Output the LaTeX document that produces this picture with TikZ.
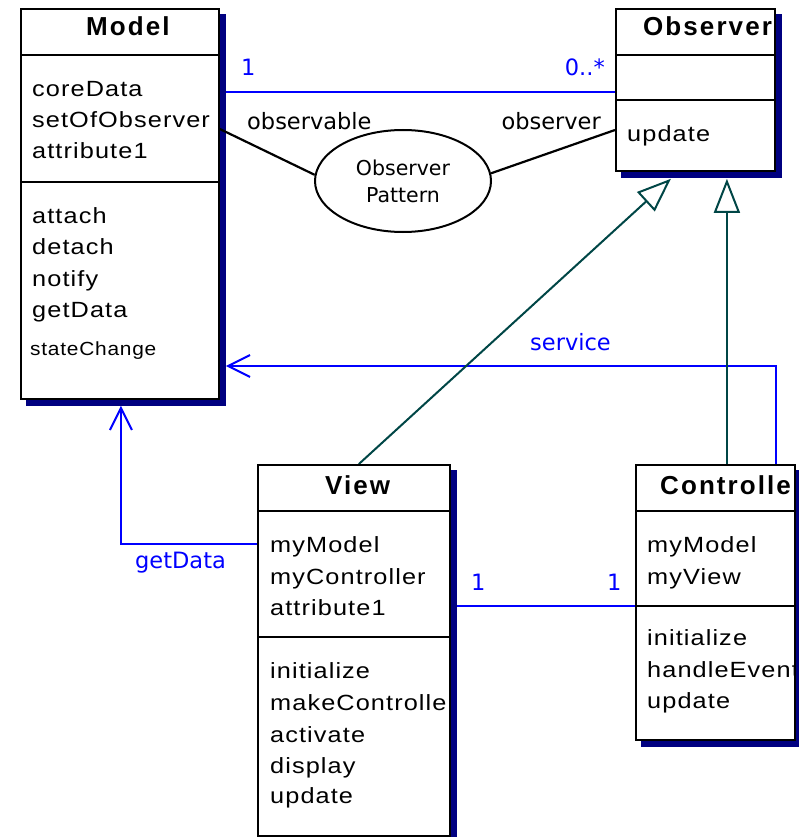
\documentclass[tikz,border=0pt]{standalone}
\usepackage{fontspec}
\setmainfont{Liberation Sans}
\newfontfamily\bodyf{Liberation Sans}[FakeStretch=1.15,LetterSpace=5]
\newfontfamily\titlef{Liberation Sans}[LetterSpace=8]
\newfontfamily\smallf{Liberation Sans}[FakeStretch=1.1,LetterSpace=4]
\newfontfamily\labelf{DejaVu Sans}
\usetikzlibrary{arrows.meta,shapes.geometric}
\definecolor{shadowblue}{RGB}{0,0,128}
\definecolor{linkblue}{RGB}{0,0,255}
\definecolor{gencol}{RGB}{0,70,70}
\pgfdeclarelayer{bg}
\pgfsetlayers{bg,main}
\begin{document}
\begin{tikzpicture}[x=1pt,y=-1pt,
  umlbox/.style={draw=black, line width=1.8pt, fill=white, rectangle, inner sep=0pt, anchor=north west},
  sep/.style={line width=1.8pt},
  txt/.style={anchor=base west, inner sep=0pt, font=\bodyf\fontsize{22}{26}\selectfont},
  ttl/.style={anchor=base west, inner sep=0pt, font=\titlef\bfseries\fontsize{26}{30}\selectfont},
  lbl/.style={anchor=base west, inner sep=0pt, font=\labelf\fontsize{22.5}{27}\selectfont},
  lble/.style={lbl, anchor=base east},
  blbl/.style={lbl, text=linkblue},
  blble/.style={lble, text=linkblue},
  assoc/.style={draw=linkblue, line width=2pt},
  dep/.style={assoc, -{Straight Barb[length=22pt,width=22pt]}, shorten >=6pt},
  gen/.style={draw=gencol, line width=2pt, -{Triangle[open,length=34pt,width=26pt,fill=white]}},
  role/.style={draw=black, line width=2.2pt},
]
\useasboundingbox (0,0) rectangle (798,837);

% boxes
\node[umlbox, minimum width=198pt, minimum height=390pt] (model) at (20,8) {};
\node[umlbox, minimum width=159pt, minimum height=162pt] (observer) at (615,8) {};
\node[umlbox, minimum width=192pt, minimum height=371pt] (view) at (257,464) {};
\node[umlbox, minimum width=159pt, minimum height=275pt] (controller) at (635,464) {};

\begin{pgfonlayer}{bg}
  % connectors under the shadows
  \draw[assoc] (model.east |- 0,92) -- (observer.west |- 0,92);
  \draw[assoc] (view.east |- 0,606) -- (controller.west |- 0,606);
  \draw[dep] ([xshift=60.5pt]controller.north) |- (model.east |- 0,366);
  \draw[dep] (view.west |- 0,544) -| ([xshift=1pt]model.south);
  \draw[gen] ([xshift=5pt]view.north) -- ([xshift=-24.5pt,yshift=-7pt]observer.south);
  \draw[gen] ([xshift=11.5pt]controller.north) -- ([xshift=31.5pt,yshift=-7pt]observer.south);
  % shadows
  \foreach \b in {model,observer,view,controller}
    \fill[shadowblue] ([shift={(6pt,-6pt)}]\b.north west) rectangle ([shift={(6pt,-6pt)}]\b.south east);
\end{pgfonlayer}

% separators
\draw[sep] (model.west |- 0,55) -- (model.east |- 0,55);
\draw[sep] (model.west |- 0,182) -- (model.east |- 0,182);
\draw[sep] (observer.west |- 0,55) -- (observer.east |- 0,55);
\draw[sep] (observer.west |- 0,100) -- (observer.east |- 0,100);
\draw[sep] (view.west |- 0,511) -- (view.east |- 0,511);
\draw[sep] (view.west |- 0,637) -- (view.east |- 0,637);
\draw[sep] (controller.west |- 0,511) -- (controller.east |- 0,511);
\draw[sep] (controller.west |- 0,606) -- (controller.east |- 0,606);

% Model texts
\node[ttl] (mt) at (86,36) {Model};
\node[txt] (ma1) at (32,97) {coreData};
\node[txt] (ma2) at (32,128) {setOfObserver};
\node[txt] (ma3) at (32,159) {attribute1};
\node[txt] (mm1) at (32,223) {attach};
\node[txt] (mm2) at (32,254) {detach};
\node[txt] (mm3) at (32,286) {notify};
\node[txt] (mm4) at (32,317) {getData};
\node[anchor=base west, inner sep=0pt, font=\smallf\fontsize{19}{22}\selectfont] (mm5) at (30,355) {stateChange};

% Observer texts
\begin{scope}
  \clip (observer.north west) rectangle (observer.south east);
  \node[ttl] (ot) at (643,36) {Observer};
\end{scope}
\node[txt] (om1) at (627,142) {update};

% View texts
\node[ttl] (vt) at (325,494) {View};
\node[txt] (va1) at (270,552) {myModel};
\node[txt] (va2) at (270,584) {myController};
\node[txt] (va3) at (270,615) {attribute1};
\node[txt] (vm1) at (270,678) {initialize};
\node[txt] (vm2) at (270,710) {makeControlle};
\node[txt] (vm3) at (270,742) {activate};
\node[txt] (vm4) at (270,773) {display};
\node[txt] (vm5) at (270,803) {update};

% Controller texts
\begin{scope}
  \clip (controller.north west) rectangle (controller.south east);
  \node[ttl] (ct) at (660,494) {Controlle};
  \node[txt] (cm2) at (647,677) {handleEvent};
\end{scope}
\node[txt] (ca1) at (647,552) {myModel};
\node[txt] (ca2) at (647,584) {myView};
\node[txt] (cm1) at (647,645) {initialize};
\node[txt] (cm3) at (647,708) {update};

% Observer pattern collaboration
\node[ellipse, draw, line width=2pt, fill=white, minimum width=176pt, minimum height=102pt,
      inner sep=0pt, align=center, font=\labelf\fontsize{20.5}{27}\selectfont] (ep) at (403,181) {Observer\\Pattern};
\draw[role] (model.east |- 0,129) -- (ep.176);
\draw[role] (ep.5) -- (observer.west |- 0,130);

% labels
\node[blbl] (l1) at (241,76) {1};
\node[blble] (l2) at (605,76) {0..*};
\node[lbl] (l3) at (247,130) {observable};
\node[lble] (l4) at (601,130) {observer};
\node[blbl] (l5) at (530,350) {service};
\node[blbl] (l6) at (135,568) {getData};
\node[blbl] (l7) at (471,590) {1};
\node[blbl] (l8) at (607,590) {1};
\end{tikzpicture}
\end{document}
